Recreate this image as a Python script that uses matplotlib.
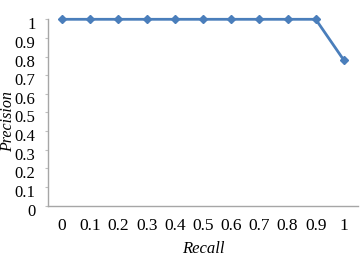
import matplotlib
matplotlib.use("Agg")
import matplotlib.pyplot as plt
from matplotlib.transforms import ScaledTranslation

recall = [0, 0.1, 0.2, 0.3, 0.4, 0.5, 0.6, 0.7, 0.8, 0.9, 1]
precision = [1, 1, 1, 1, 1, 1, 1, 1, 1, 1, 0.78]
x_labels = ["0", "0.1", "0.2", "0.3", "0.4", "0.5", "0.6", "0.7", "0.8", "0.9", "1"]
y_ticks = [0, 0.1, 0.2, 0.3, 0.4, 0.5, 0.6, 0.7, 0.8, 0.9, 1]
y_labels = ["0", "0.1", "0.2", "0.3", "0.4", "0.5", "0.6", "0.7", "0.8", "0.9", "1"]

plt.rcParams['font.family'] = ['Liberation Serif', 'DejaVu Serif']

fig = plt.figure(figsize=(3.61, 2.68), dpi=100)
ax = fig.add_axes([48/361, 1-205.5/268, 310/361, 186.2/268])

ax.plot(recall, precision, color='#4a7ebb', lw=2, marker='D', markersize=4,
        clip_on=False, zorder=3)

ax.set_xlim(-0.05, 1.05)
ax.set_ylim(0, 1)
ax.set_xticks(recall)
ax.set_xticklabels(x_labels, fontsize=12.5)
ax.set_yticks(y_ticks)
ax.set_yticklabels(y_labels, fontsize=12)
ax.tick_params(axis='x', length=0, pad=9)
ax.tick_params(axis='y', length=2.5, width=0.8, color='#c0c0c0', pad=6.5)

for lab in ax.get_yticklabels():
    lab.set_transform(lab.get_transform() + ScaledTranslation(0, -4/100, fig.dpi_scale_trans))

for s in ['top', 'right']:
    ax.spines[s].set_visible(False)
for s in ['left', 'bottom']:
    ax.spines[s].set_color('#a6a6a6')
    ax.spines[s].set_linewidth(1)

ax.set_xlabel('Recall', fontsize=12, style='italic')
ax.xaxis.set_label_coords(0.5, -0.19)
ax.set_ylabel('Precision', fontsize=11.5, style='italic')
ax.yaxis.set_label_coords(-0.104, 0.45)

fig.savefig('out.png', dpi=100, facecolor='white')
